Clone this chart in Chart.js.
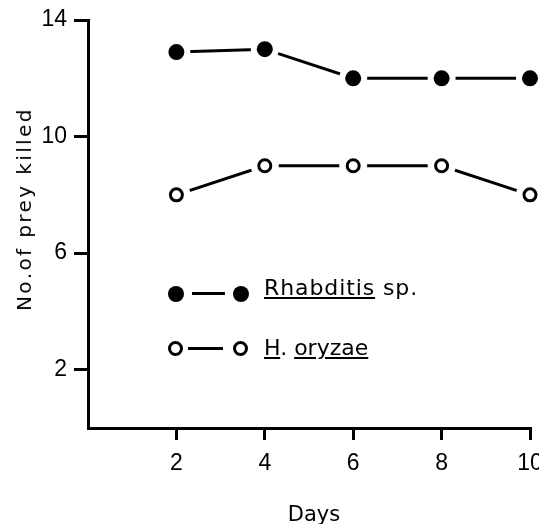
<!DOCTYPE html>
<html>
<head>
<meta charset="utf-8">
<script src="https://cdn.jsdelivr.net/npm/chart.js@4"></script>
<style>
  html, body { margin: 0; padding: 0; background: #fff; }
  #wrap { position: relative; width: 539px; height: 524px; overflow: hidden; background: #fff; }
  #c { position: absolute; left: 0; top: 0; }
  .txt { position: absolute; color: #000; white-space: nowrap; line-height: 1; font-family: "DejaVu Sans", sans-serif; }
  #ytitle { left: 24px; top: 209px; font-size: 20px; letter-spacing: 2.4px; transform: translate(-50%, -50%) rotate(-90deg); }
  #xtitle { left: 314px; top: 504px; font-size: 21px; transform: translateX(-50%); }
  .leg { font-size: 22px; left: 264px; }
  .leg u { text-underline-offset: 2px; text-decoration-thickness: 2px; }
  .dot { position: absolute; border-radius: 50%; box-sizing: border-box; }
  .dot.fill { width: 16px; height: 16px; background: #000; }
  .dot.open { width: 15px; height: 15px; border: 3px solid #000; background: #fff; }
  .seg { position: absolute; height: 3px; background: #000; }
</style>
</head>
<body>
<div id="wrap">
  <canvas id="c" width="539" height="524"></canvas>
  <div class="txt" id="ytitle">No.of prey killed</div>
  <div class="txt" id="xtitle">Days</div>

  <div class="dot fill" style="left:168px; top:286px;"></div>
  <div class="seg" style="left:192px; top:292px; width:33px;"></div>
  <div class="dot fill" style="left:233px; top:286px;"></div>
  <div class="txt leg" style="top:277px; letter-spacing:0.9px;"><u>Rhabditis</u> sp.</div>

  <div class="dot open" style="left:167.5px; top:340.5px;"></div>
  <div class="seg" style="left:188px; top:347px; width:35px;"></div>
  <div class="dot open" style="left:232.5px; top:340.5px;"></div>
  <div class="txt leg" style="top:337px;"><u>H</u>. <u>oryzae</u></div>
</div>
<script>
// ---- data ----
const days = [2, 4, 6, 8, 10];
const rhabditis = [12.9, 13.0, 12.0, 12.0, 12.0];
const hOryzae = [8.0, 9.0, 9.0, 9.0, 8.0];
const xTickValues = [2, 4, 6, 8, 10];
const yTickValues = [2, 6, 10, 14];

const pts = (ys) => days.map((d, i) => ({ x: d, y: ys[i] }));
const tickFont = { family: "'Liberation Sans Narrow', 'Liberation Sans', sans-serif", size: 23 };

new Chart(document.getElementById('c'), {
  type: 'line',
  data: {
    datasets: [
      // connecting lines
      { data: pts(rhabditis), borderColor: '#000', borderWidth: 3, pointRadius: 0, tension: 0, order: 3, clip: false },
      { data: pts(hOryzae), borderColor: '#000', borderWidth: 3, pointRadius: 0, tension: 0, order: 3, clip: false },
      // white halos giving gaps between line ends and markers
      { data: pts(rhabditis), showLine: false, pointRadius: 14, pointBackgroundColor: '#fff', pointBorderWidth: 0, order: 2, clip: false },
      { data: pts(hOryzae), showLine: false, pointRadius: 14, pointBackgroundColor: '#fff', pointBorderWidth: 0, order: 2, clip: false },
      // markers
      { label: 'Rhabditis sp.', data: pts(rhabditis), showLine: false, pointRadius: 8, pointBackgroundColor: '#000', pointBorderColor: '#000', pointBorderWidth: 0, order: 1, clip: false },
      { label: 'H. oryzae', data: pts(hOryzae), showLine: false, pointRadius: 6, pointBackgroundColor: '#fff', pointBorderColor: '#000', pointBorderWidth: 3, order: 1, clip: false }
    ]
  },
  options: {
    responsive: false,
    animation: false,
    events: [],
    layout: { autoPadding: false, padding: { left: 0, right: 9, top: 20, bottom: 0 } },
    plugins: { legend: { display: false }, tooltip: { enabled: false } },
    scales: {
      x: {
        type: 'linear', min: 0, max: 10,
        afterBuildTicks: (s) => { s.ticks = xTickValues.map(v => ({ value: v })); },
        afterFit: (s) => { s.height = 96; s.paddingLeft = 0; s.paddingRight = 0; },
        border: { display: true, width: 3, color: '#000' },
        grid: { drawOnChartArea: false, drawTicks: true, tickLength: 12, lineWidth: 3, color: '#000' },
        ticks: { font: tickFont, color: '#000', padding: 10, maxRotation: 0, autoSkip: false }
      },
      y: {
        type: 'linear', min: 0, max: 14,
        afterBuildTicks: (s) => { s.ticks = yTickValues.map(v => ({ value: v })); },
        afterFit: (s) => { s.width = 88; s.paddingTop = 0; s.paddingBottom = 0; },
        border: { display: true, width: 3, color: '#000' },
        grid: { drawOnChartArea: false, drawTicks: true, tickLength: 14, lineWidth: 3, color: '#000' },
        ticks: { font: tickFont, color: '#000', padding: 7, autoSkip: false }
      }
    }
  }
});
</script>
</body>
</html>
